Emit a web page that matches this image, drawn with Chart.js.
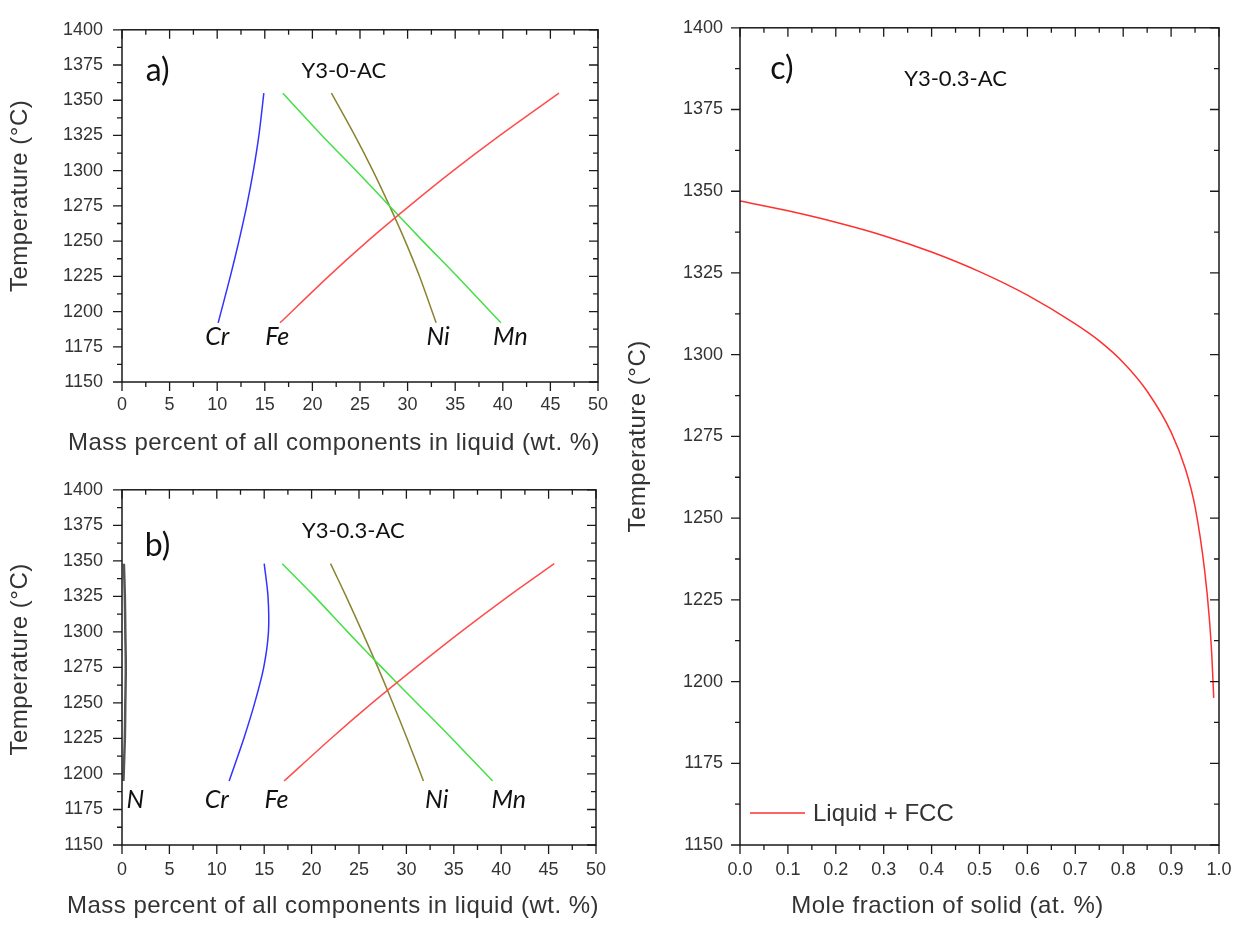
<!DOCTYPE html>
<html>
<head>
<meta charset="utf-8">
<title>Liquid composition and solid fraction vs temperature</title>
<script src="https://cdn.jsdelivr.net/npm/chart.js@4.4.1/dist/chart.umd.min.js"></script>
<style>
  body { margin: 0; background: #fff; }
  canvas { position: absolute; }
</style>
</head>
<body>
<canvas id="chart-a" width="620" height="460" style="left:0;top:0"></canvas>
<canvas id="chart-b" width="620" height="466" style="left:0;top:460px"></canvas>
<canvas id="chart-c" width="628" height="926" style="left:620px;top:0"></canvas>
<script>
'use strict';

/* DATA — panel a (Y3-0-AC), wt.% in liquid vs temperature */
const tempsA = [1192, 1225, 1250, 1275, 1300, 1325, 1355];
const crA = [10.1, 11.38, 12.28, 13.1, 13.8, 14.38, 14.9];
const feA = [16.6, 21.7, 25.8, 30.2, 34.8, 39.7, 45.9];
const niA = [33.0, 31.25, 29.75, 28.1, 26.35, 24.45, 22.0];
const mnA = [39.8, 35.2, 31.6, 28.1, 24.6, 21.0, 16.9];

/* DATA — panel b (Y3-0.3-AC) */
const tempsB = [1195, 1225, 1250, 1275, 1300, 1325, 1348];
const nB = [0.15, 0.3, 0.35, 0.4, 0.35, 0.3, 0.2];
const crB = [11.3, 12.85, 14.0, 14.95, 15.45, 15.4, 15.0];
const feB = [17.1, 22.05, 26.4, 31.0, 35.75, 40.75, 45.6];
const niB = [31.8, 30.07, 28.56, 26.99, 25.34, 23.64, 22.0];
const mnB = [39.1, 34.8, 31.1, 27.4, 23.8, 20.3, 16.9];

/* DATA — panel c, mole fraction of solid vs temperature */
const fracC = [0, 0.1, 0.2, 0.3, 0.4, 0.5, 0.6, 0.7, 0.75, 0.8, 0.85, 0.9, 0.93, 0.95, 0.97, 0.98, 0.985, 0.989];
const tempC = [1347, 1344, 1340.5, 1336.4, 1331.4, 1325.4, 1318.2, 1309.4, 1304.2, 1297.6, 1288.8, 1276.3, 1265, 1253.5, 1234, 1219, 1208, 1195];

/* element labels under the curves */
const labelsA = ['Cr', 'Fe', 'Ni', 'Mn'];
const labelXA = [10.0, 16.3, 33.2, 40.8];
const labelsB = ['N', 'Cr', 'Fe', 'Ni', 'Mn'];
const labelXB = [1.4, 10.0, 16.3, 33.2, 40.8];
const labelT = 1182;

const SANS = '"Liberation Sans", Arial, sans-serif';
const CAL = 'Lato, "Open Sans", sans-serif';

function pts(xs, ys) { return xs.map((v, i) => ({ x: v, y: ys[i] })); }
function line(data, color, w) {
  return { data, borderColor: color, borderWidth: w || 1.5, pointRadius: 0, showLine: true, tension: 0.3, fill: false };
}

/* frame, ticks, notes and axis titles */
function frame(cfg) {
  return {
    id: 'frame',
    afterDraw(chart) {
      const { ctx, chartArea: a, scales: { x, y } } = chart;
      ctx.save();
      ctx.strokeStyle = '#1a1a1a';
      ctx.lineWidth = 1.5;
      ctx.strokeRect(a.left, a.top, a.width, a.height);
      ctx.lineWidth = 1.3;
      ctx.beginPath();
      const nx = Math.round((cfg.xMax - cfg.xMin) / cfg.xStep) * 2;
      for (let i = 0; i <= nx; i++) {
        const px = x.getPixelForValue(cfg.xMin + i * cfg.xStep / 2);
        const L = i % 2 ? 5 : 9;
        ctx.moveTo(px, a.bottom); ctx.lineTo(px, a.bottom + L);
        ctx.moveTo(px, a.top); ctx.lineTo(px, a.top + L);
      }
      const ny = Math.round((1400 - 1150) / 25) * 2;
      for (let i = 0; i <= ny; i++) {
        const py = y.getPixelForValue(1150 + i * 12.5);
        const L = i % 2 ? 5 : 9;
        ctx.moveTo(a.left, py); ctx.lineTo(a.left - L, py);
        ctx.moveTo(a.right, py); ctx.lineTo(a.right - L, py);
      }
      ctx.stroke();

      ctx.fillStyle = '#111';
      ctx.textAlign = 'center';
      ctx.textBaseline = 'middle';
      cfg.notes.forEach(n => {
        ctx.font = n.font;
        ctx.fillText(n.text, x.getPixelForValue(n.x), y.getPixelForValue(n.y));
      });

      // axis titles
      ctx.fillStyle = '#333';
      ctx.font = '24px ' + SANS;
      ctx.letterSpacing = '0.5px';
      ctx.fillText(cfg.xTitle, (a.left + a.right) / 2 + cfg.xTitleShift, a.bottom + 61);
      ctx.save();
      ctx.translate(a.left - 102, (a.top + a.bottom) / 2 + cfg.yTitleShift);
      ctx.rotate(-Math.PI / 2);
      ctx.fillText('Temperature (°C)', 0, 0);
      ctx.restore();
      ctx.letterSpacing = '0px';

      if (cfg.legend) {
        const ds = chart.data.datasets[0];
        const ly = a.bottom - 32;
        ctx.strokeStyle = ds.borderColor;
        ctx.lineWidth = 1.5;
        ctx.beginPath();
        ctx.moveTo(a.left + 10, ly); ctx.lineTo(a.left + 65, ly);
        ctx.stroke();
        ctx.fillStyle = '#333';
        ctx.textAlign = 'left';
        ctx.font = '24px ' + SANS;
        ctx.fillText(ds.label, a.left + 73, ly + 1);
      }
      ctx.restore();
    }
  };
}

function panel(id, cfg) {
  const tickFont = { family: SANS, size: 18 };
  new Chart(document.getElementById(id), {
    type: 'scatter',
    data: { datasets: cfg.datasets },
    options: {
      responsive: false,
      animation: false,
      events: [],
      layout: { padding: { top: cfg.top, right: cfg.right, left: 0, bottom: 0 } },
      plugins: { legend: { display: false }, tooltip: { enabled: false } },
      scales: {
        x: {
          type: 'linear', min: cfg.xMin, max: cfg.xMax,
          grid: { display: false, drawTicks: false }, border: { display: false },
          ticks: { stepSize: cfg.xStep, autoSkip: false, maxRotation: 0, padding: cfg.xPad, color: '#333', font: tickFont, callback: cfg.xFmt },
          afterFit: s => { s.height = cfg.xH; }
        },
        y: {
          type: 'linear', min: 1150, max: 1400,
          grid: { display: false, drawTicks: false }, border: { display: false },
          ticks: { stepSize: 25, autoSkip: false, padding: cfg.yPad, color: '#333', font: tickFont, callback: v => String(v) },
          afterFit: s => { s.width = cfg.yW; }
        }
      }
    },
    plugins: [frame(cfg)]
  });
}

const noteFont = 'italic 25px ' + CAL;
const tagFont = '32px ' + CAL;
const headFont = '22px ' + CAL;
const massTitle = 'Mass percent of all components in liquid (wt. %)';

panel('chart-a', {
  top: 20, right: 18, yW: 122, xH: 78, xPad: 12, yPad: 19,
  xMin: 0, xMax: 50, xStep: 5, xFmt: v => String(v),
  xTitle: massTitle, xTitleShift: -26, yTitleShift: -10,
  datasets: [
    line(pts(crA, tempsA), '#3333ff'),
    line(pts(feA, tempsA), '#ff4d4d'),
    line(pts(mnA, tempsA), '#44e044'),
    line(pts(niA, tempsA), '#8a8430')
  ],
  notes: [
    { text: 'a)', x: 3.75, y: 1371, font: tagFont },
    { text: 'Y3-0-AC', x: 23.3, y: 1371, font: headFont }
  ].concat(labelsA.map((t, i) => ({ text: t, x: labelXA[i], y: labelT, font: noteFont })))
});

panel('chart-b', {
  top: 23, right: 18, yW: 122, xH: 81, xPad: 14, yPad: 19,
  xMin: 0, xMax: 50, xStep: 5, xFmt: v => String(v),
  xTitle: massTitle, xTitleShift: -26, yTitleShift: -8,
  datasets: [
    line(pts(nB, tempsB), '#555555', 2.5),
    line(pts(crB, tempsB), '#3333ff'),
    line(pts(feB, tempsB), '#ff4d4d'),
    line(pts(mnB, tempsB), '#44e044'),
    line(pts(niB, tempsB), '#8a8430')
  ],
  notes: [
    { text: 'b)', x: 3.75, y: 1360.5, font: tagFont },
    { text: 'Y3-0.3-AC', x: 24.4, y: 1371, font: headFont }
  ].concat(labelsB.map((t, i) => ({ text: t, x: labelXB[i], y: labelT, font: noteFont })))
});

const dsC = line(pts(fracC, tempC), '#ff3030');
dsC.label = 'Liquid + FCC';
dsC.tension = 0;
dsC.cubicInterpolationMode = 'monotone';

panel('chart-c', {
  top: 22, right: 29, yW: 120, xH: 81, xPad: 14, yPad: 17,
  xMin: 0, xMax: 1, xStep: 0.1, xFmt: v => v.toFixed(1),
  xTitle: 'Mole fraction of solid (at. %)', xTitleShift: -32, yTitleShift: 0,
  legend: true,
  datasets: [dsC],
  notes: [
    { text: 'c)', x: 0.0875, y: 1387.5, font: tagFont },
    { text: 'Y3-0.3-AC', x: 0.45, y: 1384.5, font: headFont }
  ]
});
</script>
</body>
</html>
